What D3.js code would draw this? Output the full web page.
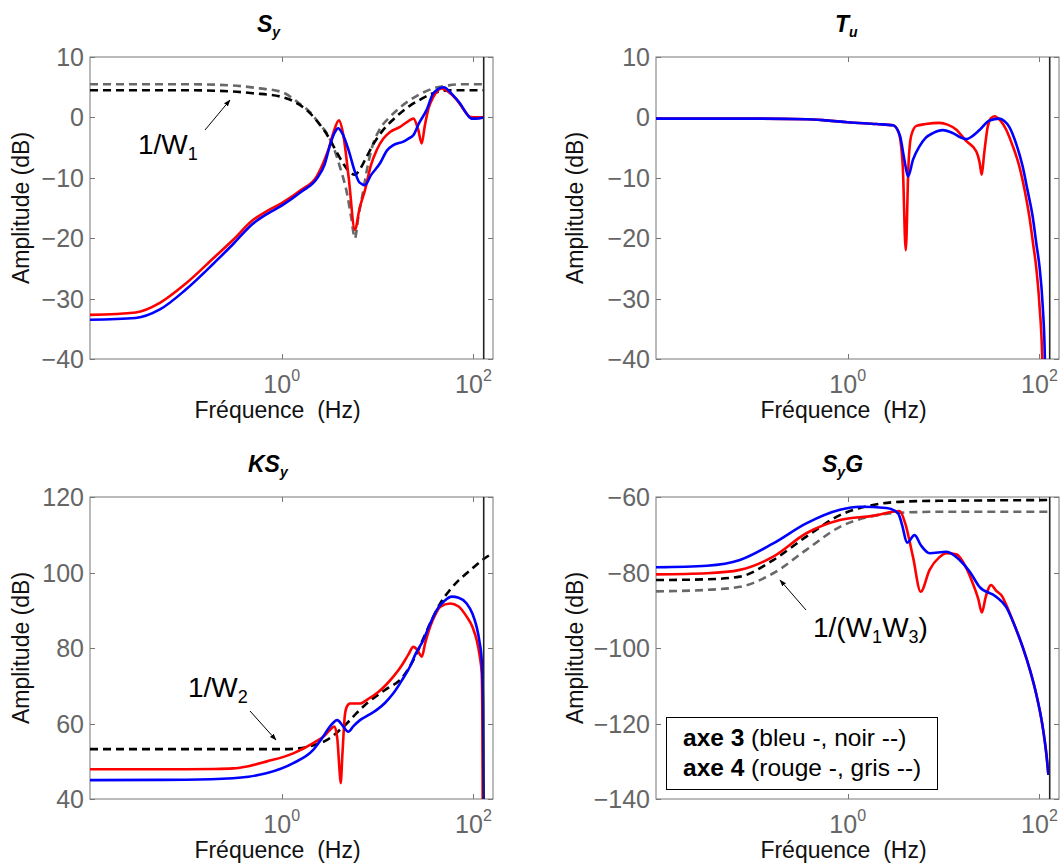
<!DOCTYPE html>
<html><head><meta charset="utf-8">
<script src="https://cdn.jsdelivr.net/npm/d3@7"></script>
<style>
body{margin:0;background:#fff}
svg{display:block}
text{font-family:"Liberation Sans",Arial,sans-serif}
</style>
</head><body><svg id="c" width="1064" height="866"></svg>
<script>
// ---------- DATA (frequency Hz, amplitude dB) ----------
const xTicks = [1, 100];
const xDomain = [0.01, 160];
const nyquist = 128;

const yTicksSy = [10, 0, -10, -20, -30, -40];
const yTicksTu = [10, 0, -10, -20, -30, -40];
const yTicksKSy = [120, 100, 80, 60, 40];
const yTicksSyG = [-60, -80, -100, -120, -140];

// S_y
const syAxe3 = [[0.01,-33.5],[0.03,-33.2],[0.0536,-31.8],[0.1,-28.5],[0.2,-24],[0.31,-21],[0.5,-17.6],[0.7,-16.0],[1,-14.6],[1.6,-12.3],[2.31,-10.2],[2.8,-7.8],[3.2,-4.5],[3.6,-2.4],[3.87,-1.8],[4.3,-2.7],[5,-5.5],[5.8,-9],[6.5,-10.8],[7.4,-11.2],[8.5,-9.6],[10.6,-7.6],[12.5,-5.5],[14.6,-4.6],[18.6,-4.0],[21,-3.5],[23.7,-2.9],[27,-1],[32.4,1.2],[38.2,4.0],[49,5.0],[60,3.8],[72.6,2.3],[85,0.6],[95,-0.2],[105,-0.2],[128,0]];
const syAxe4 = [[0.01,-32.7],[0.03,-32.3],[0.0536,-30.7],[0.1,-27.5],[0.2,-23.1],[0.31,-20.3],[0.5,-17.0],[0.7,-15.5],[1,-14.2],[1.6,-12],[2.31,-9.8],[2.8,-7],[3.06,-5.4],[3.45,-2.6],[3.95,-0.5],[4.4,-3],[5,-10],[5.8,-18.6],[6.5,-15],[7.4,-12],[8.5,-8],[9.8,-5.4],[11.5,-3.5],[13.5,-2.4],[17,-1.6],[21,-0.6],[23.7,-0.2],[26.5,-2],[28.9,-4.3],[31,-1.5],[34,1.5],[38.2,3.4],[46.8,4.8],[55,4.2],[67,2.9],[80,1.2],[92,0.1],[105,0],[128,0]];
const invW1Axe3 = [[0.01,4.5],[0.1,4.5],[0.3,4.3],[0.5,4.0],[1,3.4],[1.5,2.2],[1.97,0.7],[2.5,-1.2],[3.06,-3.2],[3.7,-5.6],[4.37,-7.6],[5,-8.9],[5.8,-9.5],[6.6,-8.5],[7.7,-6.5],[9.3,-4.1],[11.4,-2.1],[14,-0.6],[17.2,0.7],[22,2.0],[27.6,2.9],[35,3.8],[44.8,4.3],[60,4.5],[128,4.5]];
const invW1Axe4 = [[0.01,5.5],[0.1,5.5],[0.3,5.3],[0.59,4.8],[1,4.2],[1.53,2.3],[2,0.8],[2.45,-1.0],[3,-2.8],[3.45,-4.85],[4.1,-8.5],[4.8,-12.6],[5.3,-16.5],[5.8,-20],[6.3,-16.5],[7,-12.6],[7.8,-8.4],[8.8,-4.85],[10.5,-2],[13.5,0.1],[17,1.6],[21.9,2.9],[28,3.9],[38.2,4.8],[55,5.3],[80,5.5],[128,5.5]];

// T_u
const tuAxe3 = [[0.01,-0.2],[0.1,-0.2],[0.37,-0.3],[0.6,-0.5],[1,-0.8],[2,-1.1],[2.97,-1.3],[3.5,-3],[3.9,-7],[4.26,-9.8],[4.8,-7],[5.6,-4.8],[6.5,-3.4],[7.74,-2.6],[9.84,-2.1],[12.5,-2.6],[15,-3.3],[17.2,-3.6],[20,-3.1],[23.7,-2.1],[30.1,-0.5],[38.3,-0.2],[43,-0.6],[48.6,-1.6],[57,-4.3],[66.8,-8.1],[75,-12],[85,-16.4],[93,-21],[100,-24.6],[108,-31],[114,-40],[116,-48]];
const tuAxe4 = [[0.01,-0.2],[0.1,-0.2],[0.37,-0.3],[0.6,-0.5],[1,-0.8],[2,-1.1],[2.97,-1.3],[3.4,-2.5],[3.75,-8],[4.03,-22],[4.3,-8],[4.6,-3],[5.2,-1.4],[6.5,-1.1],[9.1,-0.9],[11,-1.2],[13.5,-2],[17.2,-3.9],[21.9,-5.6],[23.8,-7.5],[25,-9.5],[26.5,-6],[28.9,-1.5],[31,-0.2],[34,0.2],[39,-0.5],[44.9,-2],[52,-4.5],[61.7,-8.1],[70,-12],[78.5,-16.4],[86,-21],[92.2,-24.6],[100,-31],[107,-40],[109,-48]];

// KS_y
const ksAxe3 = [[0.01,45.0],[0.1,45.1],[0.31,45.5],[0.45,45.9],[0.69,46.8],[1.32,49.5],[2.13,53],[2.7,56.5],[3.18,59.2],[3.8,60.9],[4.3,59.5],[4.95,57.8],[5.6,59.3],[6.56,60.9],[8,62.2],[9.8,63.6],[12,65.5],[14.6,68],[18,71.5],[21.8,75.1],[25,78.5],[30,82.1],[35,86.2],[41.5,90.1],[50,92.5],[59.4,93.6],[70,93.3],[85,91.8],[98,89],[108,85.6],[116,81.5],[122,76.8],[126,65],[128,38]];
const ksAxe4 = [[0.01,47.9],[0.1,47.9],[0.2,47.95],[0.31,48.1],[0.45,48.7],[0.69,49.9],[1.32,52.1],[2.13,54.8],[2.8,56.8],[3.18,58.3],[3.54,59.2],[3.8,56],[4.0,48],[4.12,44.2],[4.3,52],[4.55,62],[4.77,64.4],[5.15,65.3],[6.56,65.3],[8,66.5],[9.8,68.0],[12,70],[14.6,72.4],[18,75.5],[21,78.3],[23.6,80.3],[26,79.5],[28.9,77.7],[31.5,81.5],[35.3,85.6],[40,88.8],[44.9,90.9],[57,91.8],[70,91],[85,88.3],[98,85.5],[108,82.1],[116,78],[122,73.3],[124,60],[125,38]];
const invW2 = [[0.01,53.2],[1,53.2],[1.5,53.4],[2,54.0],[2.94,55.6],[3.8,57.7],[4.77,60],[6,62.7],[7.7,65.3],[10,67.5],[13,69.5],[17.1,71.5],[21,74.5],[25.6,78.6],[31,83.3],[38.2,88.3],[46,92.2],[57,95.4],[70,97.9],[85,99.8],[105,101.8],[125,103.4],[145,104.5]];

// S_y G
const sygAxe3 = [[0.01,-78.6],[0.034,-78.2],[0.075,-76.7],[0.167,-72.3],[0.37,-67],[0.83,-63.4],[1.34,-62.6],[2.53,-62.9],[3.35,-64.3],[3.7,-67.5],[4.15,-72.1],[4.99,-70.1],[5.8,-72.8],[7.15,-74.9],[10.7,-74.5],[14.7,-76.7],[19,-80],[23.7,-83.8],[35.3,-86.4],[44.9,-89.1],[55,-94],[66.8,-99.7],[80,-106],[92.2,-112],[108,-120.8],[118,-128],[124,-133.6]];
const sygAxe4 = [[0.01,-80.5],[0.034,-80.2],[0.075,-79.3],[0.167,-75.8],[0.37,-69.6],[0.83,-66.1],[1.84,-65],[3.48,-63.7],[3.98,-67],[4.79,-75.8],[5.77,-85.1],[7.15,-79.3],[9,-76],[10.7,-74.9],[13.6,-75.2],[17,-78.5],[20.2,-82.9],[23,-87],[25.1,-90.6],[27.5,-86.5],[31.3,-83.3],[35.3,-84.8],[41,-86.4],[44.9,-88.5],[55,-94],[66.8,-99.7],[80,-106],[92.2,-112],[108,-120.8],[118,-128],[124,-133.6]];
const invW1W3Axe3 = [[0.01,-82],[0.034,-81.8],[0.075,-81.1],[0.167,-76.7],[0.37,-70.5],[0.83,-64.8],[1.84,-62.1],[3.98,-61.2],[8.9,-61],[30,-60.9],[128,-60.8]];
const invW1W3Axe4 = [[0.01,-85],[0.034,-84.6],[0.075,-83.8],[0.167,-80.2],[0.37,-74],[0.83,-67.9],[1.84,-65],[3.98,-64.1],[10,-63.9],[128,-63.9]];

// ---------- STYLE / LAYOUT ----------
const RED = "#ff0000", BLUE = "#0000ff", BLACK = "#000000", GREY = "#686868";
const W = 403, H = 302;
const panels = [
  {left:90, top:57, yDomain:[-40,10], yTicks:yTicksSy, ylabX:29,
   title:[["S","m"],["y","s"]], titleX:257,
   series:[[invW1Axe4,GREY,true],[invW1Axe3,BLACK,true],[syAxe4,RED,false],[syAxe3,BLUE,false]],
   ann:{parts:[["1/W","m"],["1","s"]], x:138, y:154, ax1:205, ay1:130, ax2:230, ay2:100}},
  {left:656, top:57, yDomain:[-40,10], yTicks:yTicksTu, ylabX:583,
   title:[["T","m"],["u","s"]], titleX:835,
   series:[[tuAxe4,RED,false],[tuAxe3,BLUE,false]]},
  {left:90, top:497, yDomain:[40,120], yTicks:yTicksKSy, ylabX:29,
   title:[["KS","m"],["y","s"]], titleX:248,
   series:[[invW2,BLACK,true],[ksAxe4,RED,false],[ksAxe3,BLUE,false]],
   ann:{parts:[["1/W","m"],["2","s"]], x:188, y:697, ax1:250, ay1:711, ax2:276, ay2:740}},
  {left:656, top:497, yDomain:[-140,-60], yTicks:yTicksSyG, ylabX:583,
   title:[["S","m"],["y","s"],["G","m"]], titleX:822,
   series:[[invW1W3Axe4,GREY,true],[invW1W3Axe3,BLACK,true],[sygAxe4,RED,false],[sygAxe3,BLUE,false]],
   ann:{parts:[["1/(W","m"],["1","s"],["W","m"],["3","s"],[")","m"]], x:813, y:637, ax1:806, ay1:610, ax2:780, ay2:580},
   legend:true}
];

const svg = d3.select("#c");
const defs = svg.append("defs");
defs.append("marker").attr("id","arr").attr("viewBox","0 0 10 10").attr("refX",9).attr("refY",5)
  .attr("markerWidth",7).attr("markerHeight",7).attr("orient","auto-start-reverse")
  .append("path").attr("d","M0,1.5 L10,5 L0,8.5 Z").attr("fill","#000");

const fmt = d => d < 0 ? "\u2212" + Math.abs(d) : String(d);

function richText(sel, parts, mainSize, subSize, shift) {
  let prev = "m";
  parts.forEach(([t, k]) => {
    const ts = sel.append("tspan").text(t);
    if (k === "s") { ts.attr("font-size", subSize).attr("dy", prev === "s" ? 0 : shift); }
    else { ts.attr("font-size", mainSize).attr("dy", prev === "s" ? -shift : 0); }
    prev = k;
  });
}

panels.forEach((p, i) => {
  const x = d3.scaleLog().domain(xDomain).range([p.left, p.left + W]);
  const y = d3.scaleLinear().domain(p.yDomain).range([p.top + H, p.top]);
  const g = svg.append("g");
  const cid = "clip" + i;
  defs.append("clipPath").attr("id", cid).append("rect")
    .attr("x", p.left).attr("y", p.top).attr("width", W).attr("height", H);

  // frame
  g.append("rect").attr("x", p.left).attr("y", p.top).attr("width", W).attr("height", H)
    .attr("fill", "#fff").attr("stroke", "#777").attr("stroke-width", 1);

  // y ticks (left & right, inward)
  p.yTicks.forEach(v => {
    const yy = Math.round(y(v)) + 0.5;
    g.append("line").attr("x1", p.left).attr("x2", p.left + 5).attr("y1", yy).attr("y2", yy).attr("stroke", "#777");
    g.append("line").attr("x1", p.left + W - 5).attr("x2", p.left + W).attr("y1", yy).attr("y2", yy).attr("stroke", "#777");
    g.append("text").attr("x", p.left - 6).attr("y", y(v)).attr("dy", "0.36em")
      .attr("text-anchor", "end").attr("font-size", 25).attr("fill", "#666").text(fmt(v));
  });
  // x ticks
  xTicks.forEach(v => {
    const xx = Math.round(x(v)) + 0.5;
    g.append("line").attr("x1", xx).attr("x2", xx).attr("y1", p.top + H).attr("y2", p.top + H - 5).attr("stroke", "#777");
    g.append("line").attr("x1", xx).attr("x2", xx).attr("y1", p.top).attr("y2", p.top + 5).attr("stroke", "#777");
    const t = g.append("text").attr("x", x(v)).attr("y", p.top + H + 34)
      .attr("text-anchor", "middle").attr("fill", "#666");
    t.append("tspan").attr("font-size", 25).text("10");
    t.append("tspan").attr("font-size", 16).attr("dy", -12).text(String(Math.round(Math.log10(v))));
  });

  // series
  const line = d3.line().x(d => x(d[0])).y(d => y(d[1])).curve(d3.curveMonotoneX);
  const sg = g.append("g").attr("clip-path", `url(#${cid})`);
  p.series.forEach(([data, col, dash]) => {
    sg.append("path").attr("d", line(data)).attr("fill", "none").attr("stroke", col)
      .attr("stroke-width", 2.6).attr("stroke-dasharray", dash ? "8,5" : null);
  });
  // vertical line at Nyquist
  g.append("line").attr("x1", x(nyquist)).attr("x2", x(nyquist)).attr("y1", p.top).attr("y2", p.top + H)
    .attr("stroke", "#222").attr("stroke-width", 1.6);

  // labels
  g.append("text").attr("transform", `translate(${p.ylabX},${p.top + H / 2}) rotate(-90)`)
    .attr("text-anchor", "middle").attr("font-size", 23).attr("fill", "#111").text("Amplitude (dB)");
  g.append("text").attr("x", p.left + W / 2 - 14).attr("y", p.top + H + 59)
    .attr("text-anchor", "middle").attr("font-size", 23).attr("fill", "#111")
    .attr("xml:space", "preserve").text("Fréquence  (Hz)");
  const tt = g.append("text").attr("x", p.titleX).attr("y", p.top - 25)
    .attr("font-weight", "bold").attr("font-style", "italic").attr("fill", "#000");
  richText(tt, p.title, 23, 14, 5);

  if (p.ann) {
    const a = p.ann;
    const at = g.append("text").attr("x", a.x).attr("y", a.y).attr("fill", "#000");
    richText(at, a.parts, 28, 18, 6);
    g.append("line").attr("x1", a.ax1).attr("y1", a.ay1).attr("x2", a.ax2).attr("y2", a.ay2)
      .attr("stroke", "#000").attr("stroke-width", 1).attr("marker-end", "url(#arr)");
  }
  if (p.legend) {
    g.append("rect").attr("x", 666.5).attr("y", 717.5).attr("width", 271).attr("height", 72)
      .attr("fill", "#fff").attr("stroke", "#000").attr("stroke-width", 1);
    const l1 = g.append("text").attr("x", 683).attr("y", 746).attr("font-size", 24.5).attr("fill", "#000");
    l1.append("tspan").attr("font-weight", "bold").text("axe 3");
    l1.append("tspan").text(" (bleu -, noir --)");
    const l2 = g.append("text").attr("x", 683).attr("y", 776).attr("font-size", 24.5).attr("fill", "#000");
    l2.append("tspan").attr("font-weight", "bold").text("axe 4");
    l2.append("tspan").text(" (rouge -, gris --)");
  }
});
</script></body></html>
